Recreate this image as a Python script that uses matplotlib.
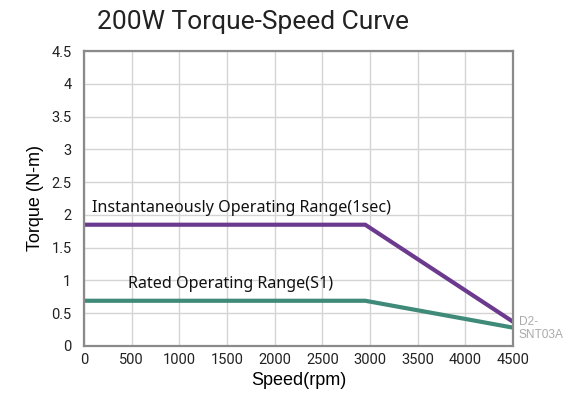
import matplotlib.pyplot as plt
import numpy as np

speed_instant = [0, 2950, 4500]
torque_instant = [1.85, 1.85, 0.37]
speed_rated = [0, 2950, 4500]
torque_rated = [0.69, 0.69, 0.28]

x_ticks = [0, 500, 1000, 1500, 2000, 2500, 3000, 3500, 4000, 4500]
y_ticks = [0, 0.5, 1, 1.5, 2, 2.5, 3, 3.5, 4, 4.5]
y_tick_labels = ["0", "0.5", "1", "1.5", "2", "2.5", "3", "3.5", "4", "4.5"]

PURPLE = "#6b3a8e"
GREEN = "#3f8a78"

fig = plt.figure(figsize=(5.69, 3.96), dpi=100)
ax = fig.add_axes([0.1476, 0.1263, 0.7540, 0.7449])

ax.plot(speed_instant, torque_instant, color=PURPLE, lw=3, solid_joinstyle="miter")
ax.plot(speed_rated, torque_rated, color=GREEN, lw=3, solid_joinstyle="miter")

ax.set_xlim(0, 4500)
ax.set_ylim(0, 4.5)
ax.set_xticks(x_ticks)
ax.set_yticks(y_ticks)
ax.set_yticklabels(y_tick_labels)
ax.grid(True, color="#d4d4d4", lw=1)
ax.set_axisbelow(True)
for s in ax.spines.values():
    s.set_color("#8a8a8a")
    s.set_linewidth(1.6)
ax.tick_params(length=0, labelsize=10.5, colors="#222222")
ax.tick_params(axis="x", pad=5)
ax.tick_params(axis="y", pad=9)
for lbl in ax.get_xticklabels() + ax.get_yticklabels():
    lbl.set_family("Roboto")

ax.set_xlabel("Speed(rpm)", family="Liberation Sans", fontsize=13, labelpad=4)
ax.set_ylabel("Torque (N-m)", family="Liberation Sans", fontsize=13, labelpad=5)

fig.text(0.171, 0.944, "200W Torque-Speed Curve", family="Roboto", fontsize=19,
         color="#222222", va="center", ha="left")

ax.text(80, 2.11, "Instantaneously Operating Range(1sec)", family="Noto Sans",
        fontsize=11.6, color="#111111", va="center", ha="left")
ax.text(460, 0.94, "Rated Operating Range(S1)", family="Noto Sans",
        fontsize=11.6, color="#111111", va="center", ha="left")

# part number, cut off at the right edge in the source; shrunk here to fit
fig.text(0.912, 0.170, "D2-\nSNT03A", family="Liberation Sans", fontsize=8.6,
         color="#aaaaaa", va="center", ha="left", linespacing=1.15)

fig.savefig("out.png", dpi=100)
